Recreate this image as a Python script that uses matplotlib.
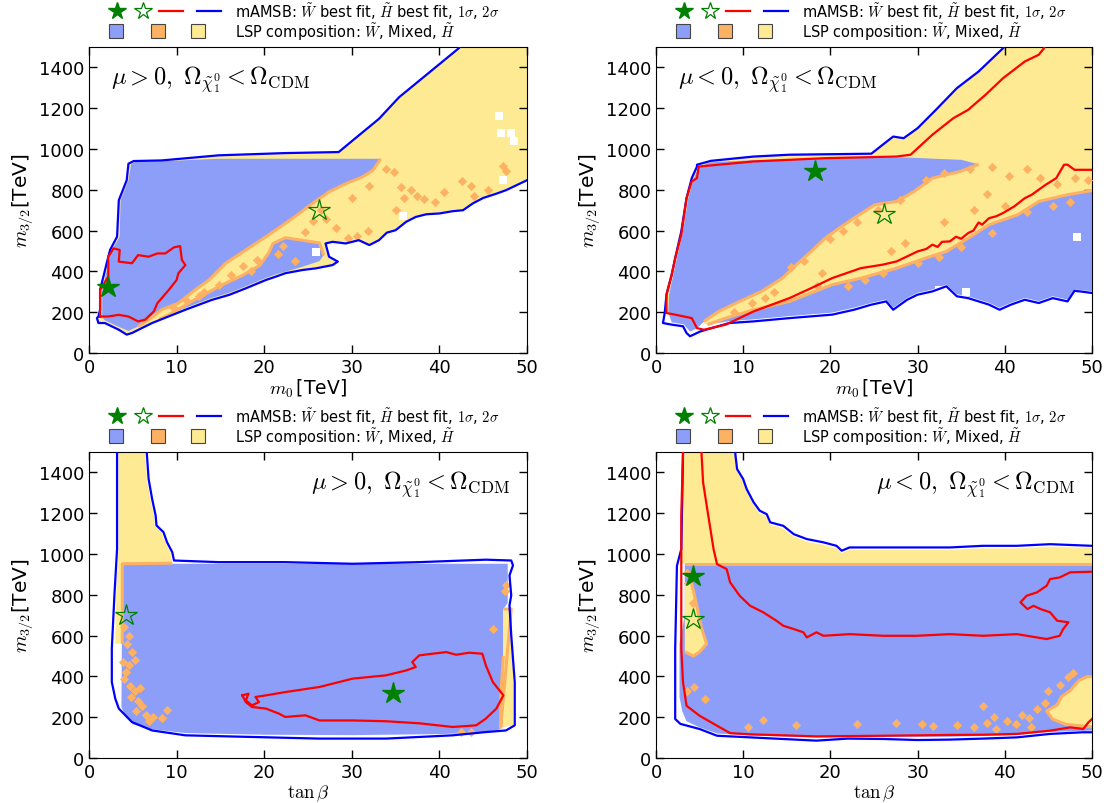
import numpy as np
import matplotlib
matplotlib.use("Agg")
import matplotlib.pyplot as plt

plt.rcParams['mathtext.fontset'] = 'cm'
plt.rcParams['font.family'] = 'DejaVu Sans'

WINO = '#8d9ef8'
MIXED = '#fdb163'
HIGGSINO = '#fdea92'

# ---------------- mu > 0, m0 plane ----------------
p1_sigma2 = [(50.0, 847), (47.6, 798), (46.5, 781), (45.0, 760), (43.8, 733), (42.7, 700), (41.5, 695),
             (40.0, 684), (38.5, 680), (37.3, 667), (36.2, 643), (35.0, 602), (34.0, 590), (33.1, 553),
             (32.0, 529), (31.2, 545), (30.8, 553), (29.3, 537), (27.8, 545), (27.0, 537), (27.4, 472),
             (28.4, 448), (27.8, 431), (25.9, 415), (24.4, 407), (22.4, 391), (21.3, 374), (20.2, 358),
             (17.9, 317), (16.0, 285), (14.0, 260), (11.0, 212), (7.2, 147), (4.9, 98), (4.3, 90),
             (3.4, 114), (1.8, 147), (1.07, 147), (0.9, 171), (1.07, 179), (1.26, 212), (1.26, 309),
             (2.2, 472), (2.4, 505), (3.2, 570), (3.4, 749), (4.3, 847), (4.5, 928), (5.1, 941),
             (8.3, 944), (14.8, 969), (22.4, 980), (28.5, 985), (30.1, 1042), (33.1, 1148), (35.4, 1254),
             (37.7, 1335), (40.0, 1416), (42.1, 1490), (42.6, 1510)]
p1_sigma1 = [(1.26, 179), (1.26, 309), (2.2, 374), (2.2, 472), (2.8, 513), (3.5, 505), (3.4, 448),
             (4.9, 440), (5.6, 480), (6.8, 472), (7.8, 488), (8.7, 488), (9.7, 518), (10.4, 524),
             (10.6, 456), (11.0, 431), (10.2, 391), (10.0, 358), (9.1, 309), (7.8, 244), (7.4, 204),
             (6.4, 163), (5.6, 155), (4.5, 179), (3.4, 187), (2.2, 179), (1.26, 179)]
p1_wino_outer = [(1.8, 160), (1.5, 175), (1.5, 309), (2.4, 472), (2.6, 505), (3.5, 570), (3.6, 749),
                 (4.5, 847), (4.8, 925), (5.3, 938), (8.3, 940), (14.8, 952)]
p1_band_top = [(33.3, 952), (32.4, 895), (31.2, 863), (29.3, 830), (27.4, 790), (25.5, 733), (24.0, 684),
               (22.4, 635), (20.2, 570), (17.9, 505), (15.6, 440), (13.7, 358), (12.1, 309), (10.2, 244),
               (8.3, 212), (6.8, 163), (5.6, 130), (4.5, 108), (3.4, 128)]
p1_band_bottom = [(8.0, 165), (9.0, 185), (12.0, 260), (15.0, 330), (17.5, 380), (19.5, 430), (20.5, 490),
                  (21.0, 537), (22.4, 565), (24.0, 555), (26.3, 540), (26.8, 480)]
p1_wino_low_edge = [(26.3, 450), (24.0, 418), (21.3, 385), (20.2, 368), (17.9, 327), (16.0, 295),
                    (14.0, 270), (11.0, 222)]
p1_spots = [(33.9, 900), (34.8, 885), (35.6, 815), (36.7, 800), (37.4, 770), (38.2, 755), (39.5, 740),
            (42.6, 845), (43.6, 820), (47.3, 915), (47.6, 890), (44.0, 770), (25.6, 645), (27.1, 655),
            (28.2, 615), (29.6, 565), (30.6, 575), (31.8, 600), (22.2, 525), (19.2, 455), (17.6, 425),
            (16.2, 380), (14.8, 335), (13.1, 300), (11.2, 255), (9.6, 225), (23.5, 450), (21.6, 485),
            (24.6, 595), (35.0, 700), (40.5, 790), (30.0, 760), (32.0, 820), (26.5, 700), (18.5, 400),
            (12.5, 280), (36.0, 760), (45.5, 800)]
p1_holes = [(46.8, 1160), (47.0, 1080), (48.2, 1080), (48.5, 1040), (47.3, 850), (35.8, 670), (25.9, 495)]
p1_best = [(2.2, 322), (26.3, 700)]

# ---------------- mu < 0, m0 plane ----------------
p2_sigma2_low = [(50.0, 294), (49.0, 300), (48.0, 305), (47.2, 253), (45.5, 269), (43.9, 245), (42.3, 261),
                 (40.7, 237), (39.4, 212), (38.2, 237), (37.0, 253), (35.8, 269), (34.5, 278), (33.3, 327),
                 (31.7, 302), (30.0, 286), (28.8, 261), (27.2, 212), (26.4, 253), (24.7, 237), (22.7, 212),
                 (20.2, 188), (15.3, 171), (11.2, 155), (8.4, 147), (5.1, 106), (3.9, 82), (3.5, 98),
                 (3.1, 131), (1.8, 139), (0.8, 147)]
p2_sigma2_up = [(1.0, 196), (1.2, 286), (1.8, 384), (2.2, 465), (2.9, 596), (3.5, 759), (4.1, 857),
                (4.7, 914), (4.7, 923), (6.3, 942), (11.2, 963), (15.3, 972), (24.7, 977), (26.0, 1021),
                (27.2, 1061), (28.4, 1053), (30.0, 1102), (32.1, 1192), (34.5, 1298), (37.0, 1380),
                (39.8, 1494), (40.1, 1510)]
p2_sigma1 = [(50.0, 898), (48.0, 898), (47.2, 923), (46.8, 923), (45.9, 857), (44.7, 825), (43.1, 776),
             (42.3, 759), (41.1, 719), (39.8, 686), (39.0, 670), (38.2, 661), (37.4, 629), (37.0, 640),
             (36.4, 600), (35.8, 588), (35.0, 560), (34.4, 570), (33.7, 547), (32.8, 545), (32.3, 520),
             (31.7, 531), (31.0, 510), (30.0, 498), (27.6, 449), (26.0, 433), (23.5, 416), (20.2, 367),
             (17.8, 318), (15.3, 269), (11.2, 204), (8.0, 139), (5.5, 114), (4.7, 122), (4.1, 171),
             (2.2, 188), (1.2, 196), (1.2, 286), (1.8, 384), (2.2, 465), (2.9, 580), (3.5, 759),
             (4.1, 841), (4.7, 857), (4.9, 914), (11.2, 939), (19.4, 955), (27.6, 963), (29.2, 972),
             (31.7, 1070), (34.1, 1151), (35.8, 1192), (37.8, 1266), (39.8, 1347), (42.3, 1429),
             (43.9, 1462), (44.5, 1494), (44.6, 1510)]
p2_wino_outer = [(1.8, 150), (1.4, 200), (1.5, 286), (2.0, 384), (2.4, 465), (3.1, 596), (3.7, 759),
                 (4.3, 850), (4.9, 912), (6.3, 935), (11.2, 945), (19.4, 955), (29.0, 958), (32.0, 952),
                 (35.0, 947)]
p2_band_top = [(37.0, 925), (34.9, 890), (31.7, 857), (29.6, 792), (27.6, 743), (25.1, 727), (22.7, 661),
               (21.0, 612), (19.4, 563), (17.8, 498), (16.1, 433), (14.5, 367), (12.1, 302), (9.6, 253),
               (7.2, 204), (5.5, 155), (4.7, 120), (3.9, 105), (3.2, 140)]
p2_band_bottom = [(5.9, 139), (8.0, 171), (11.2, 212), (15.3, 253), (20.2, 335), (23.5, 367), (27.6, 416),
                  (30.9, 465), (33.3, 498), (35.8, 563), (38.2, 629), (41.5, 678), (43.9, 743),
                  (47.2, 776), (50.5, 800)]
p2_wino_low_edge = [(50.5, 300), (48.0, 312), (47.2, 262), (45.5, 278), (43.9, 254), (42.3, 270),
                    (40.7, 246), (39.4, 222), (38.2, 246), (37.0, 262), (35.8, 278), (34.5, 288),
                    (33.3, 336), (31.7, 311), (30.0, 295), (28.8, 270), (27.2, 222), (26.4, 262),
                    (24.7, 246), (22.7, 222), (20.2, 198), (15.3, 181), (11.2, 165), (8.4, 156)]
p2_spots = [(15.5, 420), (17.0, 450), (18.5, 330), (13.5, 300), (11.0, 245), (20.0, 560), (21.5, 600),
            (23.0, 640), (25.5, 700), (28.0, 750), (31.0, 850), (33.0, 880), (36.0, 900), (38.5, 910),
            (40.5, 870), (42.5, 900), (44.0, 860), (46.0, 830), (48.0, 860), (49.5, 850), (38.0, 780),
            (40.0, 720), (42.5, 690), (45.5, 720), (47.5, 740), (30.0, 440), (32.5, 470), (26.0, 390),
            (24.0, 360), (22.0, 330), (28.5, 540), (35.0, 520), (38.5, 590), (9.0, 200), (12.5, 270),
            (19.0, 390), (27.0, 500), (33.0, 640), (36.5, 700)]
p2_holes = [(48.3, 570), (35.5, 300), (32.5, 310)]
p2_best = [(18.2, 890), (26.2, 683)]

# ---------------- mu > 0, tan(beta) plane ----------------
p3_sigma2 = [(3.2, 1510), (3.2, 1491), (3.2, 1025), (2.9, 800), (2.6, 536), (2.6, 372), (3.0, 290),
             (3.4, 242), (4.9, 176), (7.2, 135), (11.0, 111), (18.6, 103), (26.3, 95), (33.9, 95),
             (41.5, 111), (45.3, 127), (47.6, 135), (48.6, 160), (48.6, 372), (48.2, 601), (48.0, 748),
             (48.2, 797), (48.0, 895), (48.4, 944), (48.2, 968), (45.3, 972), (37.7, 960), (30.1, 952),
             (22.4, 960), (14.8, 960), (9.7, 968), (9.5, 1009), (8.9, 1058), (8.5, 1107), (7.7, 1140),
             (7.6, 1189), (7.2, 1270), (6.8, 1368), (6.6, 1491), (6.6, 1510)]
p3_sigma1 = [(17.5, 307), (18.2, 315), (17.9, 282), (18.6, 258), (19.4, 274), (19.0, 299), (20.2, 307),
             (22.4, 323), (26.3, 348), (30.1, 389), (32.0, 397), (33.9, 405), (36.2, 429), (37.3, 446),
             (36.9, 470), (37.7, 503), (39.2, 511), (40.8, 519), (41.9, 506), (43.4, 516), (44.9, 511),
             (45.3, 454), (46.1, 372), (47.3, 307), (46.5, 242), (45.3, 193), (44.2, 160), (41.5, 152),
             (37.7, 170), (33.9, 180), (30.1, 184), (26.3, 184), (24.7, 209), (22.4, 201), (21.7, 217),
             (20.2, 242), (18.6, 250), (17.9, 274), (17.5, 307)]
p3_higgsino = [(3.35, 1510), (3.35, 1025), (3.1, 800), (3.0, 560), (3.8, 560), (3.8, 952), (9.5, 955),
               (9.3, 1009), (8.7, 1058), (8.3, 1107), (7.5, 1140), (7.4, 1189), (7.0, 1270), (6.6, 1368),
               (6.4, 1510)]
p3_wino = [(3.8, 952), (47.8, 952), (47.8, 760), (47.3, 730), (47.3, 500), (47.0, 300), (46.9, 140),
           (45.0, 125), (40.0, 117), (30.0, 112), (20.0, 114), (11.0, 122), (7.0, 142), (5.0, 165),
           (4.2, 200), (3.7, 250)]
p3_edge = [(9.5, 955), (3.8, 952), (3.8, 560)]
p3_strip = [(47.3, 730), (48.2, 730), (48.4, 500), (48.4, 160), (47.0, 150), (47.0, 300), (47.3, 500)]
p3_spots = [(4.0, 640), (4.6, 600), (4.3, 560), (4.9, 520), (5.2, 480), (4.6, 455), (4.2, 420), (4.0, 385),
            (4.7, 355), (5.3, 330), (4.8, 300), (5.6, 280), (6.1, 255), (5.4, 230), (6.5, 210), (7.3, 200),
            (8.3, 195), (8.9, 235), (6.9, 180), (5.8, 345), (3.9, 470), (46.1, 634), (42.5, 125),
            (43.6, 128), (47.5, 820), (47.6, 850)]
p3_best = [(34.7, 318), (4.2, 699)]

# ---------------- mu < 0, tan(beta) plane ----------------
p4_sigma2_low = [(3.1, 1510), (3.1, 1489), (2.9, 1024), (2.4, 942), (2.2, 534), (2.2, 191), (2.8, 167),
                 (5.0, 142), (7.0, 109), (10.8, 101), (14.6, 93), (18.4, 85), (22.0, 95), (26.1, 93),
                 (30.0, 88), (33.7, 90), (37.5, 95), (41.4, 101), (45.2, 118), (49.0, 126), (50.0, 126)]
p4_sigma2_top = [(9.1, 1510), (9.1, 1489), (9.3, 1416), (10.0, 1367), (10.4, 1318), (11.2, 1253),
                 (11.9, 1212), (12.7, 1195), (13.1, 1155), (14.6, 1138), (15.8, 1097), (17.3, 1073),
                 (19.2, 1057), (20.7, 1040), (21.3, 1016), (22.2, 1032), (26.1, 1032), (29.9, 1032),
                 (33.7, 1032), (37.5, 1040), (41.4, 1040), (45.2, 1048), (50.0, 1040)]
p4_sigma1_low = [(3.1, 1510), (2.9, 1188), (2.9, 861), (2.9, 534), (3.1, 371), (3.5, 256), (5.0, 207),
                 (7.0, 158), (8.5, 122), (10.8, 116), (18.4, 106), (26.1, 109), (33.7, 113), (37.5, 114),
                 (41.4, 118), (45.2, 134), (47.5, 150), (49.0, 142), (49.6, 175), (50.0, 191)]
p4_sigma1_mid = [(5.2, 1510), (5.4, 1351), (6.0, 1187), (6.6, 1024), (7.0, 950), (8.1, 926), (8.5, 861),
                 (9.6, 795), (10.8, 746), (12.3, 714), (13.8, 673), (14.6, 648), (15.8, 632), (16.9, 616),
                 (17.3, 591), (18.4, 616), (19.2, 599), (22.2, 607), (26.1, 599), (29.9, 599), (33.7, 607),
                 (37.5, 599), (41.4, 607), (44.8, 583), (46.3, 599), (46.7, 632), (47.3, 665), (46.0, 673),
                 (45.2, 714), (44.1, 730), (43.3, 746), (42.6, 730), (41.8, 763), (42.5, 795), (43.7, 812),
                 (44.8, 844), (45.2, 877), (46.3, 885), (47.5, 910), (50.0, 913)]
p4_higgsino = [(3.2, 1510), (3.0, 1024), (2.6, 942), (2.6, 952), (50.5, 952), (50.5, 1030), (45.2, 1035),
               (41.4, 1028), (37.5, 1028), (33.7, 1020), (29.9, 1020), (26.1, 1020), (22.2, 1020),
               (21.3, 1005), (20.7, 1028), (19.2, 1045), (17.3, 1060), (15.8, 1085), (14.6, 1125),
               (13.1, 1143), (12.7, 1183), (11.9, 1200), (11.2, 1241), (10.4, 1306), (10.0, 1355),
               (9.3, 1404), (8.9, 1510)]
p4_wino = [(3.3, 952), (50.5, 952), (50.5, 135), (45.2, 128), (41.4, 112), (33.7, 104), (26.1, 104),
           (18.4, 100), (10.8, 110), (7.0, 120), (5.0, 150), (3.5, 180), (3.0, 230), (2.7, 300),
           (2.7, 560), (3.3, 700)]
p4_edge = [(3.3, 952), (50.5, 952)]
p4_strip = [(3.3, 850), (4.0, 870), (4.4, 800), (4.8, 720), (5.2, 640), (5.8, 560), (5.0, 520),
            (4.3, 500), (3.3, 520)]
p4_corner = [(50.5, 150), (47.0, 165), (45.5, 190), (44.8, 230), (46.0, 260), (46.5, 300), (47.5, 330),
             (48.5, 380), (49.5, 400), (50.5, 395)]
p4_spots = [(3.6, 905), (4.2, 760), (5.6, 290), (3.6, 330), (4.4, 350), (12.3, 185), (16.0, 160),
            (23.0, 165), (27.5, 170), (30.5, 165), (31.8, 155), (34.5, 160), (36.5, 150), (38.0, 170),
            (38.8, 200), (37.5, 255), (40.2, 180), (41.3, 165), (42.8, 195), (43.7, 240), (44.6, 270),
            (46.3, 360), (47.2, 395), (47.8, 415), (45.0, 330), (42.0, 210), (43.0, 150), (39.0, 140),
            (10.5, 150)]
p4_best = [(4.2, 890), (4.2, 681)]

xlabels = [r'$m_0\,$[TeV]', r'$m_0\,$[TeV]', r'$\tan\beta$', r'$\tan\beta$']
titles = [r'$\mu > 0,\ \Omega_{\tilde{\chi}_1^0} < \Omega_{\rm CDM}$',
          r'$\mu < 0,\ \Omega_{\tilde{\chi}_1^0} < \Omega_{\rm CDM}$',
          r'$\mu > 0,\ \Omega_{\tilde{\chi}_1^0} < \Omega_{\rm CDM}$',
          r'$\mu < 0,\ \Omega_{\tilde{\chi}_1^0} < \Omega_{\rm CDM}$']


def xy(pts):
    a = np.array(pts, dtype=float)
    return a[:, 0], a[:, 1]


def fill(ax, pts, color, z):
    x, y = xy(pts)
    ax.fill(x, y, color=color, lw=0, zorder=z)


def edge(ax, pts):
    x, y = xy(pts)
    ax.plot(x, y, color=MIXED, lw=2.2, zorder=3, solid_capstyle='butt')


def spots(ax, pts, color=MIXED, marker='D', s=22):
    x, y = xy(pts)
    ax.scatter(x, y, s=s, marker=marker, color=color, lw=0, zorder=4)


def contour(ax, pts, color):
    x, y = xy(pts)
    ax.plot(x, y, color=color, lw=1.6, zorder=5)


def stars(ax, pts):
    (xw, yw), (xh, yh) = pts
    ax.plot(xw, yw, marker='*', ms=16, color='green', zorder=6)
    ax.plot(xh, yh, marker='*', ms=16, mfc='none', mec='green', mew=0.9, zorder=6)


def setup(ax, xlabel, title, right):
    ax.set_xlim(0, 50)
    ax.set_ylim(0, 1500)
    ax.set_xticks(range(0, 51, 10))
    ax.set_yticks(range(0, 1401, 200))
    ax.tick_params(direction='in', top=True, right=True, labelsize=13, length=6, width=1)
    ax.set_xlabel(xlabel, fontsize=13.5, labelpad=1)
    ax.set_ylabel(r'$m_{3/2}$[TeV]', fontsize=14.5, labelpad=3)
    if right:
        ax.text(0.962, 0.895, title, transform=ax.transAxes, ha='right', va='center', fontsize=17.5)
    else:
        ax.text(0.05, 0.895, title, transform=ax.transAxes, ha='left', va='center', fontsize=17.5)


def legend_block(fig, ax):
    box = ax.get_position()
    W, H = fig.get_size_inches() * fig.dpi
    tf = fig.transFigure

    def fx(d):
        return box.x0 + d / W

    def fy(d):
        return box.y1 + d / H

    kw = dict(transform=tf, clip_on=False)
    ax.plot([fx(28)], [fy(36)], marker='*', ms=13, color='green', **kw)
    ax.plot([fx(54)], [fy(36)], marker='*', ms=13, mfc='none', mec='green', mew=0.9, **kw)
    ax.plot([fx(70), fx(94)], [fy(36), fy(36)], color='red', lw=1.6, **kw)
    ax.plot([fx(108), fx(132)], [fy(36), fy(36)], color='blue', lw=1.6, **kw)
    for d, c in zip([26.5, 68.5, 108.5], [WINO, MIXED, HIGGSINO]):
        ax.plot([fx(d)], [fy(16)], marker='s', ms=10.5, mfc=c, mec='#444444', mew=0.8, **kw)
    ax.text(fx(146), fy(36), r'mAMSB: $\tilde{W}$ best fit, $\tilde{H}$ best fit, $1\sigma$, $2\sigma$',
            transform=tf, va='center', ha='left', fontsize=10.5)
    ax.text(fx(146), fy(16), r'LSP composition: $\tilde{W}$, Mixed, $\tilde{H}$',
            transform=tf, va='center', ha='left', fontsize=10.5)


fig = plt.figure(figsize=(11.13, 8.04), dpi=100)
axes = [fig.add_axes([0.0800, 0.5597, 0.3935, 0.3806]),
        fig.add_axes([0.5894, 0.5597, 0.3917, 0.3806]),
        fig.add_axes([0.0800, 0.0560, 0.3935, 0.3806]),
        fig.add_axes([0.5894, 0.0560, 0.3917, 0.3806])]

# mu > 0, m0
ax = axes[0]
fill(ax, p1_sigma2 + [(50.5, 1510), (50.5, 847)], HIGGSINO, 1)
fill(ax, p1_wino_outer + p1_band_top, WINO, 2)
fill(ax, p1_band_bottom + p1_wino_low_edge, WINO, 2)
edge(ax, p1_band_top[:-2])
edge(ax, p1_band_bottom)
spots(ax, p1_spots)
spots(ax, p1_holes, color='white', marker='s', s=30)
contour(ax, p1_sigma2, 'blue')
contour(ax, p1_sigma1, 'red')
stars(ax, p1_best)

# mu < 0, m0: Higgsino-like region sits above the lower band edge
ax = axes[1]
fill(ax, p2_band_bottom + [(50.5, 1510)] + p2_sigma2_up[::-1], HIGGSINO, 1)
fill(ax, p2_wino_outer + p2_band_top, WINO, 2)
fill(ax, p2_band_bottom + p2_wino_low_edge, WINO, 2)
edge(ax, p2_band_top[:-3])
edge(ax, p2_band_bottom)
spots(ax, p2_spots)
spots(ax, p2_holes, color='white', marker='s', s=30)
contour(ax, p2_sigma2_low + p2_sigma2_up, 'blue')
contour(ax, p2_sigma1, 'red')
stars(ax, p2_best)

# mu > 0, tan(beta)
ax = axes[2]
fill(ax, p3_higgsino, HIGGSINO, 1)
fill(ax, p3_wino, WINO, 2)
fill(ax, p3_strip, HIGGSINO, 3)
edge(ax, p3_edge)
edge(ax, p3_strip[:2] + p3_strip[-3:])
spots(ax, p3_spots)
contour(ax, p3_sigma2, 'blue')
contour(ax, p3_sigma1, 'red')
stars(ax, p3_best)

# mu < 0, tan(beta)
ax = axes[3]
fill(ax, p4_higgsino, HIGGSINO, 1)
fill(ax, p4_wino, WINO, 2)
fill(ax, p4_strip, HIGGSINO, 3)
fill(ax, p4_corner, HIGGSINO, 3)
edge(ax, p4_edge)
edge(ax, p4_strip)
edge(ax, p4_corner)
spots(ax, p4_spots)
contour(ax, p4_sigma2_low, 'blue')
contour(ax, p4_sigma2_top, 'blue')
contour(ax, p4_sigma1_low, 'red')
contour(ax, p4_sigma1_mid, 'red')
stars(ax, p4_best)

for i, ax in enumerate(axes):
    setup(ax, xlabels[i], titles[i], right=(i >= 2))
    legend_block(fig, ax)

fig.savefig('out.png', dpi=100)
